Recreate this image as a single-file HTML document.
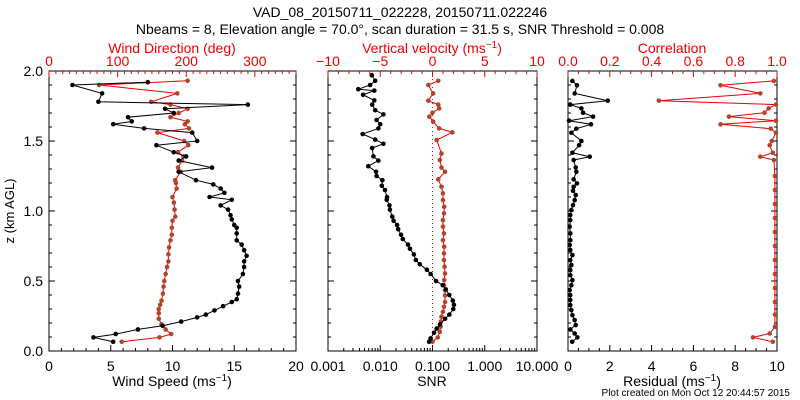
<!DOCTYPE html>
<html><head><meta charset="utf-8"><style>
body{margin:0;background:#fff;width:800px;height:400px;overflow:hidden}
svg{display:block;font-family:"Liberation Sans",sans-serif}
</style></head><body>
<svg id="c" width="800" height="400" viewBox="0 0 800 400">
<text x="400" y="17" text-anchor="middle" font-size="14">VAD_08_20150711_022228, 20150711.022246</text>
<text x="400" y="34" text-anchor="middle" font-size="14">Nbeams = 8, Elevation angle = 70.0°, scan duration = 31.5 s, SNR Threshold = 0.008</text>
<text x="14" y="211" text-anchor="middle" font-size="13" transform="rotate(-90 14 211)">z (km AGL)</text>
<text x="790" y="396" text-anchor="end" font-size="10">Plot created on Mon Oct 12 20:44:57 2015</text>
</svg>
<script>
// ---- data ----
const spdZ=[0.066,0.097,0.121,0.154,0.18,0.21,0.24,0.26,0.29,0.32,0.35,0.37,0.41,0.46,0.50,0.55,0.60,0.64,0.68,0.72,0.76,0.79,0.84,0.88,0.90,0.94,0.97,1.01,1.04,1.08,1.10,1.13,1.16,1.19,1.22,1.28,1.31,1.36,1.39,1.42,1.47,1.50,1.56,1.59,1.62,1.64,1.67,1.70,1.73,1.76,1.78,1.84,1.90,1.92];
const spdV=[5.2,3.6,5.4,7.2,9.2,10.7,12.0,12.7,13.4,14.1,14.8,15.2,15.3,15.4,15.3,15.7,15.8,15.8,16.0,15.8,15.6,15.2,15.2,15.2,15.0,14.8,14.7,14.5,13.9,14.8,13.0,14.2,13.9,13.3,11.9,10.5,13.2,10.5,11.1,10.1,8.7,12.0,11.6,7.7,5.2,6.7,6.4,10.1,9.4,16.1,4.0,4.3,1.9,8.0];
const dirZ=[0.066,0.097,0.121,0.154,0.19,0.23,0.27,0.30,0.33,0.36,0.41,0.46,0.50,0.55,0.60,0.64,0.69,0.74,0.79,0.83,0.88,0.93,0.96,1.01,1.06,1.10,1.16,1.20,1.22,1.28,1.31,1.36,1.39,1.42,1.47,1.50,1.56,1.59,1.62,1.64,1.67,1.70,1.73,1.76,1.78,1.84,1.90,1.93];
const dirV=[106,161,178,170,164,160,160,160,162,164,166,167,168,170,172,174,174,175,177,179,179,180,184,183,182,180,186,185,184,192,188,194,196,188,203,197,158,204,198,202,177,189,202,177,149,187,73,202];
const snrZ=[0.066,0.09,0.13,0.16,0.19,0.23,0.26,0.30,0.33,0.36,0.40,0.44,0.47,0.50,0.55,0.58,0.62,0.65,0.69,0.73,0.76,0.80,0.83,0.87,0.90,0.93,0.96,1.01,1.04,1.08,1.10,1.15,1.18,1.22,1.25,1.28,1.32,1.36,1.39,1.45,1.48,1.51,1.55,1.59,1.62,1.65,1.69,1.72,1.76,1.79,1.83,1.86,1.87,1.90,1.93,1.97];
const snrV=[0.086,0.092,0.107,0.12,0.139,0.174,0.21,0.25,0.257,0.245,0.21,0.18,0.157,0.117,0.092,0.078,0.057,0.048,0.044,0.037,0.034,0.027,0.025,0.022,0.021,0.018,0.017,0.0153,0.015,0.0133,0.0135,0.0123,0.0107,0.011,0.0085,0.0083,0.0059,0.0092,0.0074,0.007,0.0115,0.008,0.0046,0.0092,0.01,0.0085,0.0115,0.008,0.007,0.0077,0.0047,0.0077,0.0038,0.0064,0.008,0.0069];
const wZ=[0.066,0.097,0.137,0.173,0.21,0.245,0.28,0.316,0.35,0.397,0.433,0.47,0.507,0.554,0.602,0.649,0.697,0.745,0.792,0.84,0.888,0.935,0.983,1.03,1.078,1.126,1.173,1.226,1.28,1.31,1.364,1.411,1.507,1.562,1.59,1.638,1.674,1.702,1.733,1.76,1.788,1.84,1.90,1.93];
const wV=[0,0.5,0.7,0.77,0.8,0.86,1.0,1.1,1.2,1.2,1.2,1.1,1.12,1.2,1.15,1.1,1.1,1.12,1.0,1.1,1.0,1.0,1.1,1.12,1.0,1.0,0.86,0.55,1.2,0.86,0.7,0.86,0.4,1.9,0.64,0.06,-0.3,0,0.64,0.55,-0.4,0.06,-0.4,0.55];
const resZ=[0.066,0.097,0.125,0.154,0.185,0.221,0.256,0.292,0.328,0.364,0.399,0.435,0.47,0.506,0.542,0.578,0.614,0.649,0.685,0.721,0.757,0.792,0.84,0.888,0.935,0.971,1.007,1.042,1.078,1.114,1.145,1.173,1.197,1.226,1.28,1.31,1.364,1.388,1.416,1.47,1.50,1.559,1.588,1.619,1.645,1.674,1.702,1.733,1.76,1.788,1.84,1.898,1.929];
const resV=[0.2,0.45,0.32,0.11,0.37,0.32,0.21,0.16,0.11,0.11,0.11,0.08,0.16,0.21,0.11,0.11,0.16,0.11,0.21,0.11,0.08,0.11,0.11,0.08,0.11,0.11,0.16,0.24,0.32,0.37,0.24,0.27,0.43,0.27,0.4,0.37,0.27,1.04,0.21,0.53,0.64,0.16,0.4,1.1,0.05,1.2,0.72,0.64,0.11,1.9,0.32,0.43,0.21];
const corZ=[0.066,0.097,0.125,0.173,0.26,0.35,0.45,0.55,0.65,0.75,0.85,0.95,1.05,1.15,1.25,1.364,1.388,1.416,1.47,1.50,1.559,1.588,1.619,1.645,1.674,1.702,1.733,1.76,1.788,1.84,1.898,1.929];
const corV=[0.98,0.885,0.965,0.99,0.99,0.99,0.99,0.99,0.99,0.99,0.99,0.99,0.99,0.99,0.99,0.985,0.92,0.98,0.965,0.975,0.995,0.97,0.73,0.995,0.77,0.94,0.96,0.995,0.435,0.92,0.73,0.985];
const zTicks=["0.0","0.5","1.0","1.5","2.0"];
const spdTicks=["0","5","10","15","20"];
const dirTicks=["0","100","200","300"];
const snrTicks=["0.001","0.010","0.100","1.000","10.000"];
const wTicks=["−10","−5","0","5","10"];
const resTicks=["0","2","4","6","8","10"];
const corTicks=["0.0","0.2","0.4","0.6","0.8","1.0"];

const svg=document.getElementById('c');
const NS='http://www.w3.org/2000/svg';
const TOP=71,BOT=351,BROWN='#b5432a';
function yz(z){return BOT-(BOT-TOP)*z/2.0;}
function el(tag,at,parent){const e=document.createElementNS(NS,tag);for(const k in at)e.setAttribute(k,at[k]);(parent||svg).appendChild(e);return e;}
function txt(x,y,s,fill,anchor,size){const t=el('text',{x:x,y:y,'text-anchor':anchor||'middle','font-size':size||14,fill:fill||'#000'});t.textContent=s;return t;}
function series(g,zs,vs,fx,lineCol,markCol,name){
  let d='';for(let i=0;i<zs.length;i++){d+=(i?'L':'M')+fx(vs[i]).toFixed(1)+','+yz(zs[i]).toFixed(1);}
  const p=el('path',{d:d,fill:'none',stroke:lineCol,'stroke-width':1},g);
  
  
  for(let i=0;i<zs.length;i++){
    const c=el('circle',{cx:fx(vs[i]),cy:yz(zs[i]),r:2.3,fill:markCol},g);
    
    
  }
}
function frame(L,R,name){
  const g=el('g',{});
  
  
  el('rect',{x:L,y:TOP,width:R-L,height:BOT-TOP,fill:'none',stroke:'#000','stroke-width':1},g);
  // y ticks
  for(let i=0;i<=20;i++){const y=yz(i*0.1);const len=i%5===0?6:3;
    el('line',{x1:L,x2:L+len,y1:y,y2:y,stroke:'#000'},g);el('line',{x1:R,x2:R-len,y1:y,y2:y,stroke:'#000'},g);}
  return g;
}
function linTicks(g,L,R,min,max,step,major,labels,y,dir,col){
  const n=Math.round((max-min)/step);
  for(let i=0;i<=n;i++){const v=min+i*step;const x=L+(R-L)*(v-min)/(max-min);
    const isMaj=Math.abs((v-min)/major-Math.round((v-min)/major))<1e-6;const len=isMaj?6:3;
    el('line',{x1:x,x2:x,y1:y,y2:y+dir*len,stroke:col},g);}
}
// Panel 1
const p1L=49,p1R=296;
const g1=frame(p1L,p1R,'wind-panel');
const xs=v=>p1L+(p1R-p1L)*v/20, xd=v=>p1L+(p1R-p1L)*v/360;
linTicks(g1,p1L,p1R,0,20,1,5,null,BOT,-1,'#000');
linTicks(g1,p1L,p1R,0,360,10,100,null,TOP,1,'#e00');
spdTicks.forEach((s,i)=>{const t=txt(xs(i*5),371,s);});
dirTicks.forEach((s,i)=>{const t=txt(xd(i*100),66,s,'#e00');});
zTicks.forEach((s,i)=>{const t=txt(43,yz(i*0.5)+5,s,'#000','end');});
let t=txt(172,386,'Wind Speed (ms');
t.innerHTML='Wind Speed (ms<tspan dy="-5" font-size="10">−1</tspan><tspan dy="5">)</tspan>';
t=txt(172,53,'Wind Direction (deg)','#e00');
series(g1,dirZ,dirV,xd,'#e00',BROWN,'direction');
series(g1,spdZ,spdV,xs,'#000','#000','speed');

// Panel 2
const p2L=328,p2R=537;
const g2=frame(p2L,p2R,'snr-panel');
const xsn=v=>p2L+(p2R-p2L)*(Math.log10(v)+3)/4, xw=v=>p2L+(p2R-p2L)*(v+10)/20;
for(let d=-3;d<1;d++){for(let m=1;m<10;m++){const x=xsn(m*Math.pow(10,d));el('line',{x1:x,x2:x,y1:BOT,y2:BOT-(m===1?6:3),stroke:'#000'},g2);}}
el('line',{x1:p2R,x2:p2R,y1:BOT,y2:BOT-6,stroke:'#000'},g2);
linTicks(g2,p2L,p2R,-10,10,1,5,null,TOP,1,'#e00');
snrTicks.forEach((s,i)=>{const t=txt(xsn(Math.pow(10,i-3)),371,s);});
wTicks.forEach((s,i)=>{const t=txt(xw(-10+i*5),66,s,'#e00');});
t=txt(432,386,'SNR');
t=txt(432,53,'','#e00');
t.innerHTML='Vertical velocity (ms<tspan dy="-5" font-size="10">−1</tspan><tspan dy="5">)</tspan>';
el('line',{x1:xw(0),x2:xw(0),y1:TOP,y2:BOT,stroke:'#e00','stroke-dasharray':'1,3'},g2);
series(g2,wZ,wV,xw,'#e00',BROWN,'velocity');
series(g2,snrZ,snrV,xsn,'#000','#000','snr');

// Panel 3
const p3L=568,p3R=777;
const g3=frame(p3L,p3R,'residual-panel');
const xr=v=>p3L+(p3R-p3L)*v/10, xc=v=>p3L+(p3R-p3L)*v;
linTicks(g3,p3L,p3R,0,10,0.5,2,null,BOT,-1,'#000');
linTicks(g3,p3L,p3R,0,1,0.05,0.2,null,TOP,1,'#e00');
resTicks.forEach((s,i)=>{const t=txt(xr(i*2),371,s);});
corTicks.forEach((s,i)=>{const t=txt(xc(i*0.2),66,s,'#e00');});
t=txt(672,386,'');
t.innerHTML='Residual (ms<tspan dy="-5" font-size="10">−1</tspan><tspan dy="5">)</tspan>';
t=txt(672,53,'Correlation','#e00');
series(g3,corZ,corV,xc,'#e00',BROWN,'correlation');
series(g3,resZ,resV,xr,'#000','#000','residual');
</script>
</body></html>
